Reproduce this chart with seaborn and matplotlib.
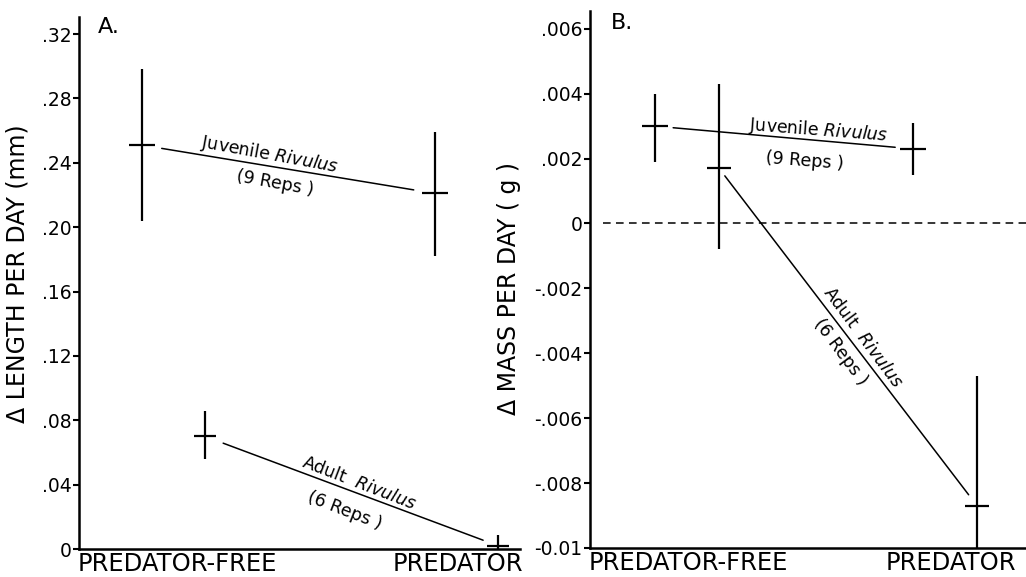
import matplotlib
matplotlib.use("Agg")
import matplotlib.pyplot as plt
import pandas as pd
import seaborn as sns


treatments = ["PREDATOR-FREE", "PREDATOR"]

# panel A: change in length per day (mm)
juv_len_mean = [0.251, 0.221]
juv_len_lo = [0.204, 0.182]
juv_len_hi = [0.298, 0.259]
adult_len_mean = [0.070, 0.002]
adult_len_lo = [0.056, 0.000]
adult_len_hi = [0.086, 0.009]

# panel B: change in mass per day (g)
juv_mass_mean = [0.0030, 0.0023]
juv_mass_lo = [0.0019, 0.0015]
juv_mass_hi = [0.0040, 0.0031]
adult_mass_mean = [0.0017, -0.0087]
adult_mass_lo = [-0.0008, -0.0100]
adult_mass_hi = [0.0043, -0.0047]

len_ticks = [0, 0.04, 0.08, 0.12, 0.16, 0.20, 0.24, 0.28, 0.32]
len_ticklabels = ["0", ".04", ".08", ".12", ".16", ".20", ".24", ".28", ".32"]
mass_ticks = [-0.01, -0.008, -0.006, -0.004, -0.002, 0, 0.002, 0.004, 0.006]
mass_ticklabels = ["-0.01", "-.008", "-.006", "-.004", "-.002", "0", ".002", ".004", ".006"]

# x placement of each series around the two treatment positions (0 and 1)
X_POS = {
    "A_juv": [-0.127, 0.918],
    "A_adult": [0.098, 1.143],
    "B_juv": [-0.125, 0.856],
    "B_adult": [0.118, 1.099],
}


def draw_series(ax, xs, mean, lo, hi, size, shrink):
    df = pd.DataFrame({"x": xs, "y": mean})
    sns.scatterplot(data=df, x="x", y="y", marker="_", s=size, color="black",
                    linewidth=1.6, ax=ax, legend=False)
    ax.vlines(xs, lo, hi, color="black", lw=1.6)
    ax.annotate("", xy=(xs[1], mean[1]), xytext=(xs[0], mean[0]),
                arrowprops=dict(arrowstyle="-", color="black", lw=1.1,
                                shrinkA=shrink[0], shrinkB=shrink[1]))


def style_axis(ax, xlim, ylim, ticks, ticklabels, ylabel, label_x, label_y):
    ax.set_xlim(*xlim)
    ax.set_ylim(*ylim)
    ax.set_yticks(ticks)
    ax.set_yticklabels(ticklabels)
    ax.set_xticks([0, 1])
    ax.set_xticklabels(treatments, fontsize=17.5)
    ax.tick_params(axis="x", length=0, pad=2)
    ax.tick_params(axis="y", length=4, width=1.5, labelsize=13.5, pad=1.5)
    sns.despine(ax=ax)
    for side in ["left", "bottom"]:
        ax.spines[side].set_linewidth(1.8)
    ax.set_xlabel("")
    ax.set_ylabel(ylabel, fontsize=17, labelpad=0)
    ax.yaxis.set_label_coords(label_x, label_y)


sns.set_style("ticks")
plt.rcParams["font.family"] = ["DejaVu Sans"]
plt.rcParams["mathtext.fontset"] = "dejavusans"
for key in ["text.color", "axes.labelcolor", "xtick.color", "ytick.color", "axes.edgecolor"]:
    plt.rcParams[key] = "black"

fig = plt.figure(figsize=(10.26, 5.77), dpi=100)
ax_a = fig.add_axes([0.0770, 0.0485, 0.4298, 0.922])
ax_b = fig.add_axes([0.5750, 0.0503, 0.4250, 0.9307])

# ---- panel A ----
draw_series(ax_a, X_POS["A_juv"], juv_len_mean, juv_len_lo, juv_len_hi, 330, (14.5, 15.5))
draw_series(ax_a, X_POS["A_adult"], adult_len_mean, adult_len_lo, adult_len_hi, 230, (14, 11.5))
style_axis(ax_a, (-0.351, 1.221), (0, 0.3306), len_ticks, len_ticklabels,
           "Δ LENGTH PER DAY (mm)", -0.112, 0.517)

txt = dict(fontsize=12.5, ha="center", va="center", rotation_mode="anchor")
ax_a.text(0.330, 0.2452, "Juvenile $\\mathit{Rivulus}$", rotation=-10.4, **txt)
ax_a.text(0.348, 0.2272, "(9 Reps )", rotation=-10.4, **txt)
ax_a.text(0.647, 0.0408, "Adult  $\\mathit{Rivulus}$", rotation=-21.1, **txt)
ax_a.text(0.597, 0.0238, "(6 Reps )", rotation=-21.1, **txt)
ax_a.text(0.043, 1.0, "A.", transform=ax_a.transAxes, fontsize=16, va="top", ha="left")

# ---- panel B ----
ax_b.axhline(0, xmin=0.03, xmax=1, color="black", lw=1.1, ls=(0, (5, 3.5)))
draw_series(ax_b, X_POS["B_juv"], juv_mass_mean, juv_mass_lo, juv_mass_hi, 340, (13, 13))
draw_series(ax_b, X_POS["B_adult"], adult_mass_mean, adult_mass_lo, adult_mass_hi, 300, (6.8, 10))
style_axis(ax_b, (-0.373, 1.285), (-0.01, 0.00655), mass_ticks, mass_ticklabels,
           "Δ MASS PER DAY ( g )", -0.158, 0.484)

ax_b.text(0.494, 0.00288, "Juvenile $\\mathit{Rivulus}$", rotation=-4.4, **txt)
ax_b.text(0.445, 0.00193, "(9 Reps )", rotation=-4.4, **txt)
ax_b.text(0.665, -0.0035, "Adult  $\\mathit{Rivulus}$", rotation=-53.4, **txt)
ax_b.text(0.579, -0.00396, "(6 Reps )", rotation=-53.4, **txt)
ax_b.text(0.048, 0.996, "B.", transform=ax_b.transAxes, fontsize=16, va="top", ha="left")

fig.savefig("out.png", dpi=100)
